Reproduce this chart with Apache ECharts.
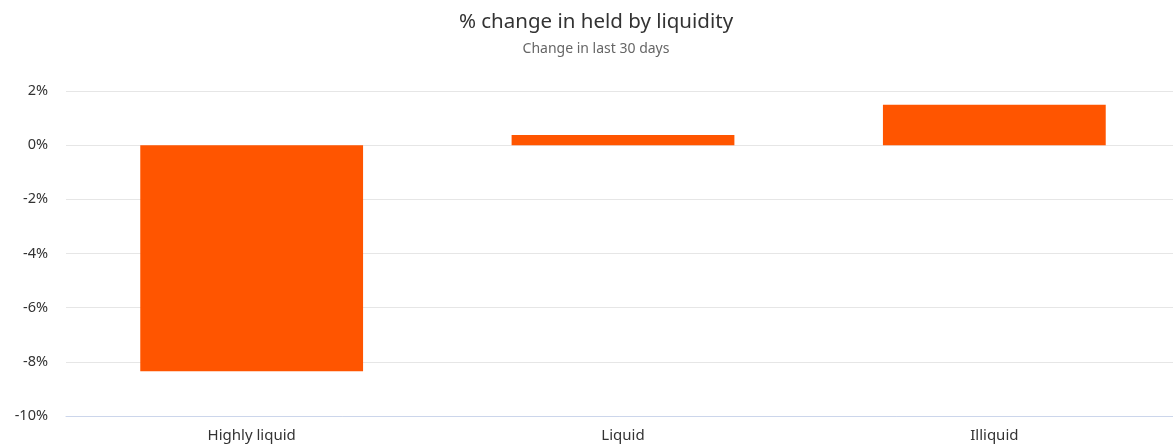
<!DOCTYPE html>
<html>
<head>
<meta charset="utf-8">
<style>
  html, body { margin: 0; padding: 0; background: #ffffff; }
  #chart { width: 1173px; height: 444px; }
</style>
<script src="https://cdn.jsdelivr.net/npm/echarts@6/dist/echarts.min.js"></script>
</head>
<body>
<div id="chart"></div>
<script>
// Liquidity buckets and their 30-day percentage change
const categories = ['Highly liquid', 'Liquid', 'Illiquid'];
const changePct = [-8.35, 0.38, 1.49];
const yTicks = { min: -10, max: 2, interval: 2 };

const chart = echarts.init(document.getElementById('chart'), null, { renderer: 'canvas' });
const font = '"Noto Sans", "Open Sans", sans-serif';

chart.setOption({
  animation: false,
  backgroundColor: '#ffffff',
  title: {
    text: '% change in held by liquidity',
    subtext: 'Change in last 30 days',
    left: 591,
    textAlign: 'center',
    top: 7,
    itemGap: 9,
    textStyle: { fontFamily: font, fontSize: 20.5, fontWeight: 'normal', color: '#333333' },
    subtextStyle: { fontFamily: font, fontSize: 14, color: '#666666' }
  },
  // plot area runs a few pixels past the right edge of the canvas
  grid: { left: 66, width: 1114, top: 91, bottom: 28, containLabel: false, outerBoundsMode: 'none' },
  xAxis: {
    type: 'category',
    data: categories,
    axisLine: { show: true, onZero: false, lineStyle: { color: '#ccd6eb', width: 1 } },
    axisTick: { show: false },
    axisLabel: { fontFamily: font, fontSize: 15, color: '#333333', margin: 12 }
  },
  yAxis: {
    type: 'value',
    min: yTicks.min,
    max: yTicks.max,
    interval: yTicks.interval,
    axisLine: { show: false },
    axisTick: { show: false },
    axisLabel: {
      fontFamily: font, fontSize: 14.5, color: '#333333', margin: 18,
      formatter: v => v + '%'
    },
    splitLine: { lineStyle: { color: '#e6e6e6', width: 1 } }
  },
  series: [{
    type: 'bar',
    data: changePct,
    barWidth: '60%',
    itemStyle: { color: '#ff5500' }
  }]
});
</script>
</body>
</html>
